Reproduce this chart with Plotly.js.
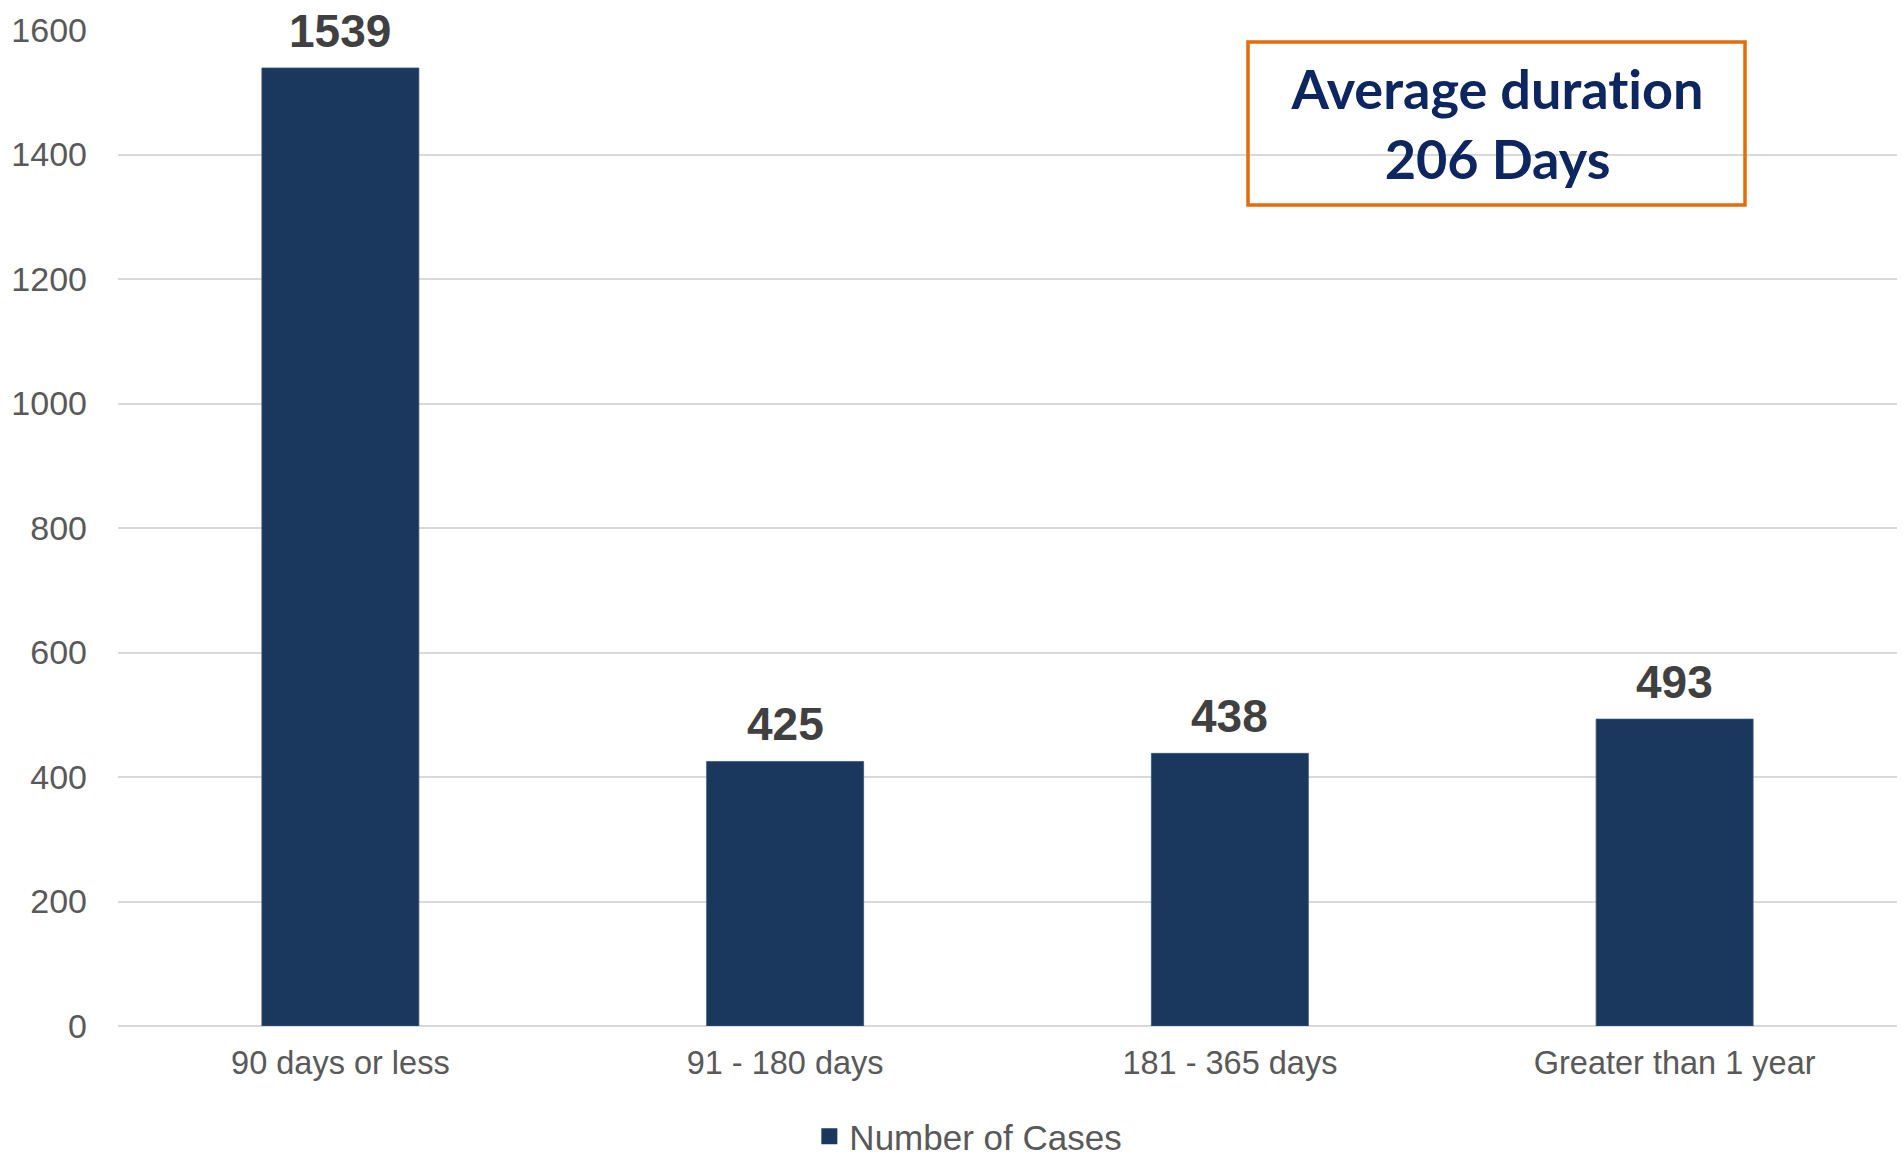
<!DOCTYPE html>
<html>
<head>
<meta charset="utf-8">
<script src="https://cdn.plot.ly/plotly-3.0.1.min.js"></script>
<style>
html,body{margin:0;padding:0;background:#fff;}
#chart{width:1904px;height:1160px;}
#chart text{font-variant-ligatures:none;font-feature-settings:"liga" 0;}
</style>
</head>
<body>
<div id="chart"></div>
<script>
const categories = ["90 days or less", "91 - 180 days", "181 - 365 days", "Greater than 1 year"];
const cases = [1539, 425, 438, 493];
const seriesName = "Number of Cases";
const yTicks = [0, 200, 400, 600, 800, 1000, 1200, 1400, 1600];
const boxLines = ["Average duration", "206 Days"];

const barColor = "#1A375E";

const barTrace = {
  type: "bar",
  x: categories,
  y: cases,
  name: seriesName,
  marker: {color: barColor, line: {color: "#3B5478", width: 0.8}},
  showlegend: false,
  hoverinfo: "x+y"
};

// legend entry (square key) for the bar series
const legendKey = {
  type: "scatter", mode: "markers",
  x: [categories[0]], y: [null],
  name: seriesName,
  marker: {symbol: "square", size: 16, color: barColor},
  showlegend: true, hoverinfo: "skip"
};

const valueLabels = categories.map((c, i) => ({
  x: c, y: cases[i], xref: "x", yref: "y",
  text: String(cases[i]), showarrow: false,
  yanchor: "bottom", yshift: 9,
  font: {family: "Liberation Sans, Arial, sans-serif", size: 46, color: "#404040", weight: "bold"}
}));

const layout = {
  width: 1904, height: 1160,
  margin: {l: 118, r: 7, t: 30, b: 134, autoexpand: false},
  paper_bgcolor: "#ffffff", plot_bgcolor: "#ffffff",
  bargap: 0.647,
  font: {family: "Liberation Sans, Arial, sans-serif", color: "#595959", size: 33},
  xaxis: {
    type: "category",
    showgrid: false, showline: false, zeroline: false,
    ticks: "", tickfont: {size: 32.5, color: "#595959"},
    ticklabelstandoff: 14
  },
  yaxis: {
    range: [0, 1600], tickvals: yTicks, ticktext: yTicks.map(String),
    showgrid: true, gridcolor: "#D9D9D9", gridwidth: 2,
    zeroline: true, zerolinecolor: "#D9D9D9", zerolinewidth: 2,
    showline: false, ticks: "", ticklabelstandoff: 30,
    tickfont: {size: 34, color: "#595959"}
  },
  showlegend: true,
  legend: {
    orientation: "h", x: 0.478, xanchor: "center", y: -0.1405, yanchor: "bottom",
    font: {size: 35, color: "#595959"}, itemwidth: 30, bgcolor: "rgba(0,0,0,0)"
  },
  shapes: [{
    type: "rect", xref: "paper", yref: "paper",
    x0: (1248 - 118) / 1779, x1: (1745 - 118) / 1779,
    y0: (1026 - 205) / 996, y1: (1026 - 42) / 996,
    line: {color: "#E46C0A", width: 3.5}, fillcolor: "rgba(0,0,0,0)"
  }],
  annotations: valueLabels.concat([{
    xref: "paper", yref: "paper",
    x: ((1248 + 1745) / 2 - 118) / 1779, y: (1026 - 123) / 996,
    xanchor: "center", yanchor: "middle", showarrow: false,
    text: boxLines.join("<br>"),
    font: {family: "Lato, Open Sans, sans-serif", size: 54, color: "#0D2660", weight: "bold"}
  }])
};

Plotly.newPlot("chart", [barTrace, legendKey], layout, {displayModeBar: false, staticPlot: true});
</script>
</body>
</html>
